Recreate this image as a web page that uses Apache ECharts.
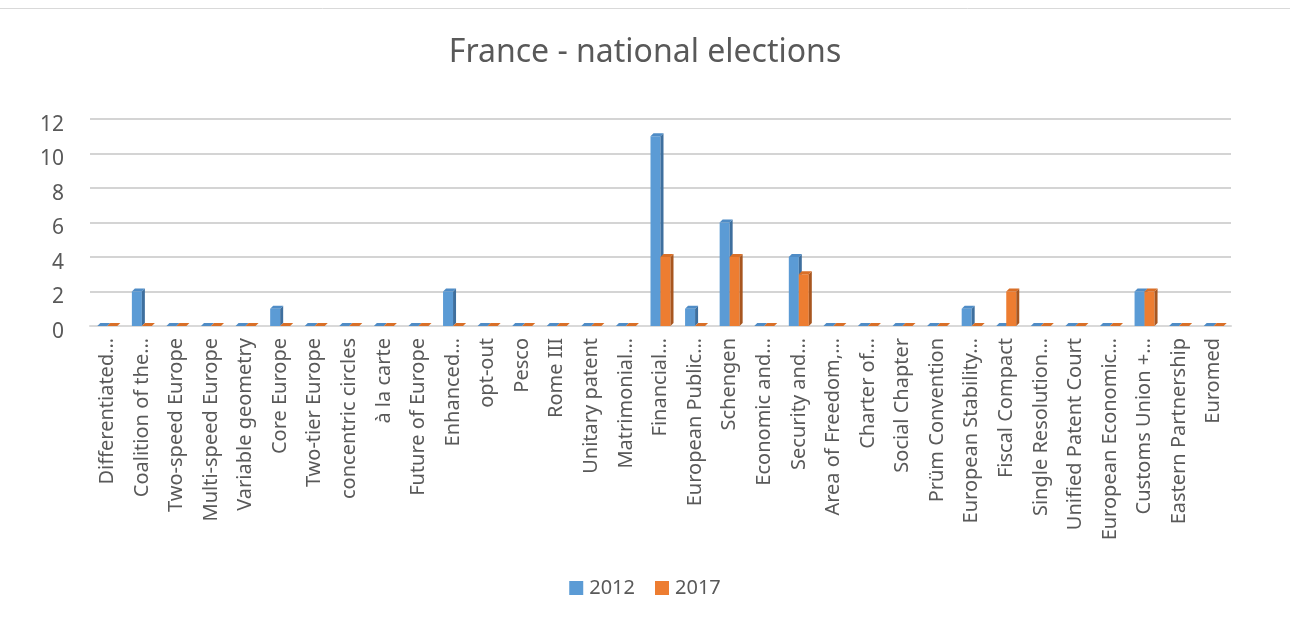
<!DOCTYPE html>
<html>
<head>
<meta charset="utf-8">
<script src="https://cdn.jsdelivr.net/npm/echarts@6/dist/echarts.min.js"></script>
<style>
  html, body { margin: 0; padding: 0; background: #fff; }
  #chart { width: 1290px; height: 624px; }
</style>
</head>
<body>
<div id="chart"></div>
<script>
// Terms mentioned in French national election manifestos
const categories = [
  'Differentiated…', 'Coalition of the…', 'Two-speed Europe', 'Multi-speed Europe',
  'Variable geometry', 'Core Europe', 'Two-tier Europe', 'concentric circles',
  'à la carte', 'Future of Europe', 'Enhanced…', 'opt-out', 'Pesco', 'Rome III',
  'Unitary patent', 'Matrimonial…', 'Financial…', 'European Public…', 'Schengen',
  'Economic and…', 'Security and…', 'Area of Freedom,…', 'Charter of…',
  'Social Chapter', 'Prüm Convention', 'European Stability…', 'Fiscal Compact',
  'Single Resolution…', 'Unified Patent Court', 'European Economic…',
  'Customs Union +…', 'Eastern Partnership', 'Euromed'
];
const values2012 = [0, 2, 0, 0, 0, 1, 0, 0, 0, 0, 2, 0, 0, 0, 0, 0, 11, 1, 6, 0, 4, 0, 0, 0, 0, 1, 0, 0, 0, 0, 2, 0, 0];
const values2017 = [0, 0, 0, 0, 0, 0, 0, 0, 0, 0, 0, 0, 0, 0, 0, 0, 4, 0, 4, 0, 3, 0, 0, 0, 0, 0, 2, 0, 0, 0, 2, 0, 0];
const yTicks = { min: 0, max: 12, interval: 2 };

const FONT = '"Noto Sans", "Open Sans", sans-serif';
const TEXT = '#595959';

// Extruded column: front face, right side and top face
function columnRenderer(slot, front, sideCol, topCol) {
  return function (params, api) {
    const i = api.value(0);
    const v = api.value(1);
    const base = api.coord([i, 0]);
    const top = api.coord([i, v]);
    const w = 10, d = 3;
    const x0 = slot === 0 ? base[0] - w : base[0];
    const x1 = x0 + w;
    const yb = base[1], yt = top[1];
    return {
      type: 'group',
      children: [
        { type: 'rect', shape: { x: x0, y: yt, width: w, height: yb - yt }, style: { fill: front } },
        { type: 'polygon', shape: { points: [[x1, yt], [x1 + d, yt - d], [x1 + d, yb - d], [x1, yb]] }, style: { fill: sideCol } },
        { type: 'polygon', shape: { points: [[x0, yt], [x0 + d, yt - d], [x1 + d, yt - d], [x1, yt]] }, style: { fill: topCol } }
      ]
    };
  };
}

const chart = echarts.init(document.getElementById('chart'), null, { renderer: 'canvas' });
chart.setOption({
  backgroundColor: '#fff',
  animation: false,
  title: {
    text: 'France - national elections',
    left: 'center',
    top: 32,
    textStyle: { fontFamily: FONT, fontSize: 32, fontWeight: 'normal', color: TEXT }
  },
  legend: {
    bottom: 21,
    left: 'center',
    icon: 'rect',
    itemWidth: 14,
    itemHeight: 14,
    itemGap: 20,
    textStyle: { fontFamily: FONT, fontSize: 20, color: TEXT, padding: [0, 0, 0, 1] },
    data: ['2012', '2017']
  },
  grid: { left: 90, right: 59, top: 119, bottom: 298, containLabel: false },
  xAxis: {
    type: 'category',
    data: categories,
    axisLine: { show: true, lineStyle: { color: '#d9d9d9', width: 2 } },
    axisTick: { show: false },
    axisLabel: {
      interval: 0,
      rotate: 90,
      margin: 12,
      fontFamily: FONT,
      fontSize: 20,
      color: TEXT
    }
  },
  yAxis: {
    type: 'value',
    min: yTicks.min,
    max: yTicks.max,
    interval: yTicks.interval,
    axisLine: { show: false },
    axisTick: { show: false },
    axisLabel: {
      fontFamily: FONT, fontSize: 21, color: TEXT, margin: 26,
      verticalAlign: 'top', lineHeight: 12
    },
    splitLine: { lineStyle: { color: '#d4d4d4', width: 2 } }
  },
  graphic: [
    { type: 'line', shape: { x1: 0, y1: 8.5, x2: 1290, y2: 8.5 }, style: { stroke: '#d9d9d9', lineWidth: 1 } }
  ],
  series: [
    {
      name: '2012',
      type: 'custom',
      itemStyle: { color: '#5b9bd5' },
      renderItem: columnRenderer(0, '#5b9bd5', '#3e6f9e', '#4f8cc6'),
      encode: { x: 0, y: 1 },
      data: values2012.map((v, i) => [i, v])
    },
    {
      name: '2017',
      type: 'custom',
      itemStyle: { color: '#ed7d31' },
      renderItem: columnRenderer(1, '#ed7d31', '#a8561f', '#d96f27'),
      encode: { x: 0, y: 1 },
      data: values2017.map((v, i) => [i, v])
    }
  ]
});
</script>
</body>
</html>
